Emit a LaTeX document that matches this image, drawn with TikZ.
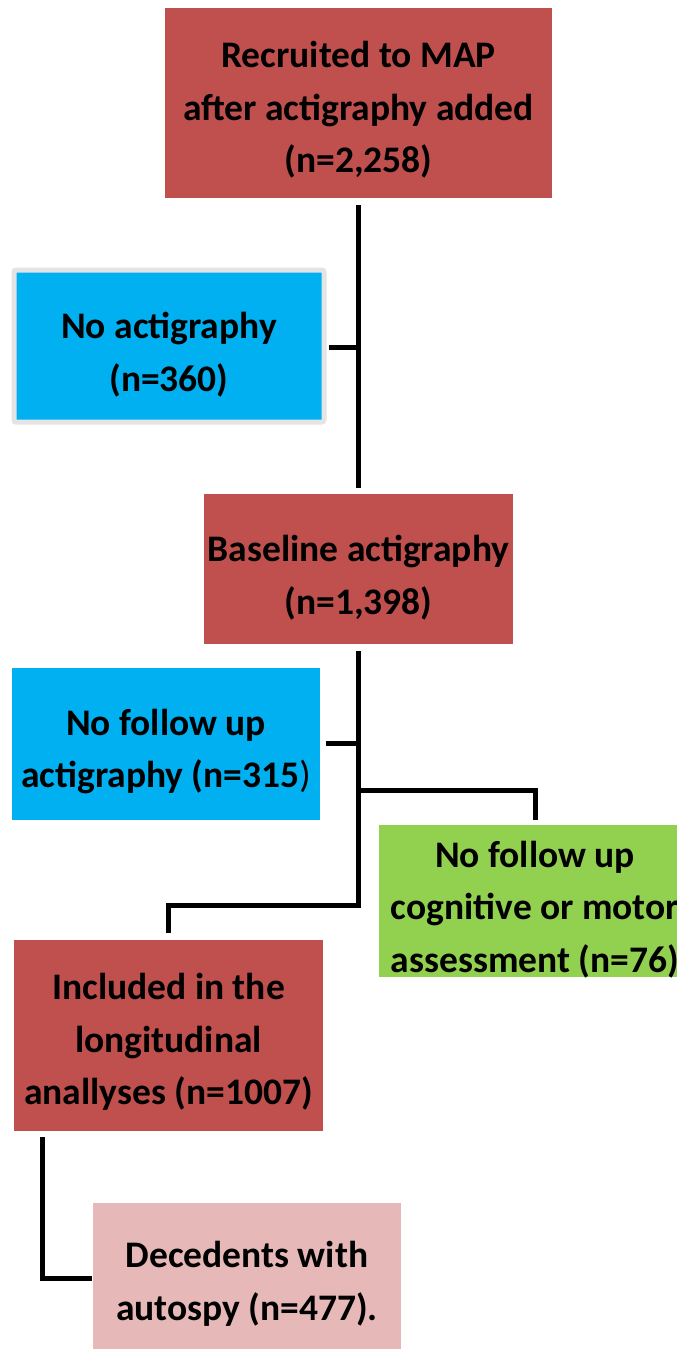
\documentclass[tikz,border=0pt]{standalone}
\usepackage{fontspec}
\setmainfont{Carlito}
\usetikzlibrary{calc}
\definecolor{boxred}{HTML}{C0504D}
\definecolor{boxcyan}{HTML}{00B0F0}
\definecolor{boxgreen}{HTML}{92D050}
\definecolor{boxpink}{HTML}{E6B9B8}
\definecolor{boxrim}{HTML}{E4E4E4}
\begin{document}
\begin{tikzpicture}[x=1pt,y=-1pt,
  box/.style={rectangle, inner sep=0pt, outer sep=0pt},
  label text/.style={inner sep=0pt, outer sep=0pt, align=center,
    font=\bfseries\fontsize{37.5}{52.5}\selectfont, text=black},
  conn/.style={line width=5pt, draw=black}]
\useasboundingbox (0,0) rectangle (677,1349);
\clip (0,0) rectangle (677,1349);
% boxes
\node[box, fill=boxred, minimum width=387pt, minimum height=190pt] (r1) at (358.5,103) {};
\node[box, fill=boxcyan, draw=boxrim, line width=5pt, rounded corners=2pt, minimum width=310pt, minimum height=152pt] (c1) at (169,346) {};
\node[box, fill=boxred, minimum width=309pt, minimum height=150pt] (r2) at (358.5,569) {};
\node[box, fill=boxcyan, minimum width=308pt, minimum height=152pt] (c2) at (166,744) {};
\node[box, fill=boxgreen, minimum width=312pt, minimum height=152pt] (g) at (535,901) {};
\node[box, fill=boxred, minimum width=309pt, minimum height=191pt] (r3) at (168.5,1035.5) {};
\node[box, fill=boxpink, minimum width=308pt, minimum height=156pt] (p) at (247,1281) {};
% texts
\node[label text] (r1t) at ($(r1.center)+(0,7)$) {Recruited to MAP\\after actigraphy added\\(n=2,258)};
\node[label text] (c1t) at ($(c1.center)+(0,8.5)$) {No actigraphy\\(n=360)};
\node[label text] (r2t) at ($(r2.center)+(0,8.5)$) {Baseline actigraphy\\(n=1,398)};
\node[label text] (c2t) at ($(c2.center)+(0,7.5)$) {No follow up\\actigraphy (n=315{\mdseries)}};
\node[label text] (gt) at ($(g.center)+(0,8.5)$) {No follow up\\cognitive or motor\\assessment (n=76)};
\node[label text] (r3t) at ($(r3.center)+(0,6.5)$) {Included in the\\longitudinal\\anallyses (n=1007)};
\node[label text] (pt) at ($(p.center)+(0,3)$) {Decedents with\\autospy (n=477).};
% connectors
\draw[conn] ($(r1.south)+(0,7)$) -- ($(r2.north)+(0,-6)$);
\draw[conn] ($(c1.east)+(5,1)$) -- ($(c1.east -| r1.south)+(0,1)$);
\draw[conn] ($(r2.south)+(0,7)$) -- ($(r2.south |- r3.north)+(0,-35)$) -| ($(r3.north)+(0,-7)$);
\draw[conn] ($(c2.east)+(6,-1)$) -- ($(c2.east -| r2.south)+(0,-1)$);
\draw[conn] ($(r2.south |- g.north)+(0,-35)$) -| ($(g.north)+(0,-5)$);
\draw[conn] ($(r3.south west)+(28,6)$) |- ($(p.north west)+(-1,75)$);
\end{tikzpicture}
\end{document}
